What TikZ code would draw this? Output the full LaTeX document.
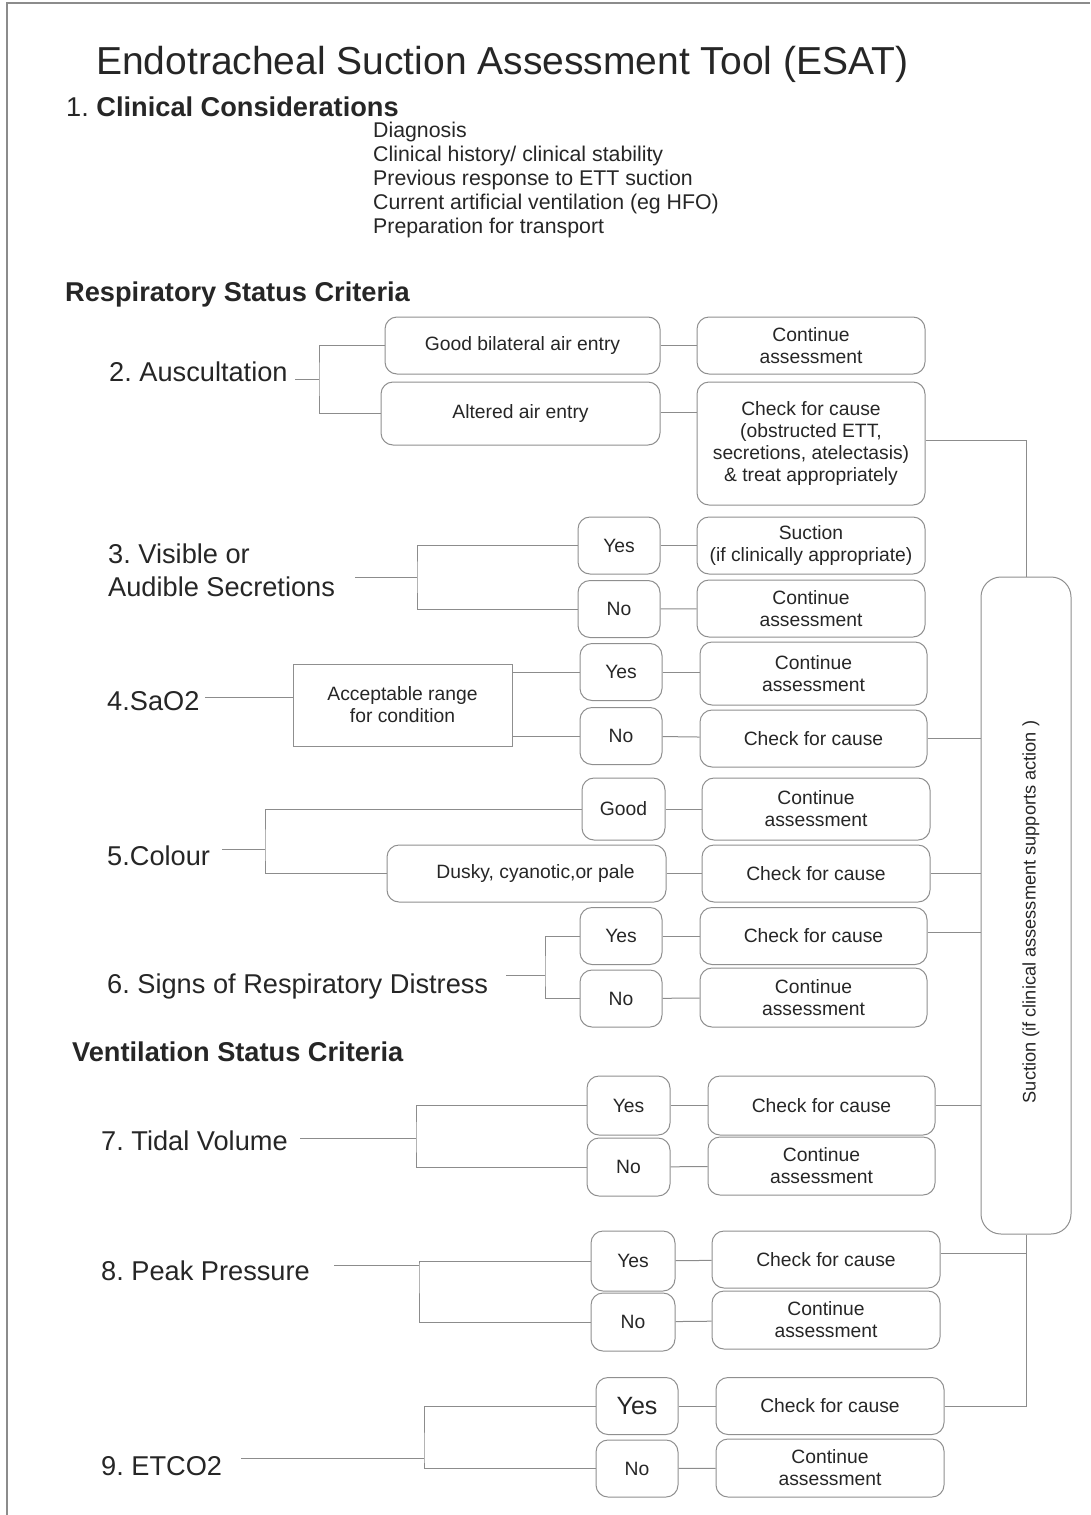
\documentclass[tikz,border=0pt]{standalone}
\usepackage{fontspec}
\setmainfont{Liberation Sans}
\frenchspacing
\definecolor{ink}{HTML}{262626}
\definecolor{linegrey}{HTML}{8C8C8C}
\definecolor{boxgrey}{HTML}{8F8F8F}
\tikzset{
  box/.style={draw=boxgrey, line width=1pt, rounded corners=12pt, inner sep=0pt, align=center,
    text=ink, font=\fontsize{19.3}{22}\selectfont, minimum height=57},
  opt/.style={box, minimum width=82},
  act/.style={box, minimum width=228},
  lab/.style={anchor=base west, inner sep=0pt, text=ink, font=\fontsize{27.2}{33}\selectfont},
  head/.style={lab, font=\fontsize{27.2}{33}\selectfont\bfseries},
  item/.style={lab, font=\fontsize{21.3}{24}\selectfont},
  conn/.style={draw=linegrey, line width=1pt}
}
\begin{document}
\begin{tikzpicture}[x=1pt,y=-1pt]
\useasboundingbox (0,0) rectangle (1090,1515);
\draw[linegrey, line width=1.2pt] (7,1515) -- (7,3) -- (1090,3);
% heading
\node[lab, font=\fontsize{39}{44}\selectfont] (title) at (96,74) {Endotracheal Suction Assessment Tool (ESAT)};
\node[lab] (cc) at (66,116) {1. \textbf{Clinical Considerations}};
\node[item] (cc1) at (373,137) {Diagnosis};
\node[item] (cc2) at (373,161) {Clinical history/ clinical stability};
\node[item] (cc3) at (373,185) {Previous response to ETT suction};
\node[item] (cc4) at (373,209) {Current artificial ventilation (eg HFO)};
\node[item] (cc5) at (373,233) {Preparation for transport};
\node[head] (resp) at (65,301) {Respiratory Status Criteria};
\node[head] (vent) at (72,1061) {Ventilation Status Criteria};
% suction column
\node[draw=boxgrey, line width=1pt, rounded corners=20pt, minimum width=90, minimum height=657] (sx) at (1026,905.5) {};
\node[rotate=90, text=ink, font=\fontsize{18.2}{20}\selectfont] (sxt) at (1031,912) {Suction (if clinical assessment supports action )};
% 2
\node[lab] (l2) at (109,381) {2. Auscultation};
\node[box, minimum width=275] (g2) at (522.5,345.5) {Good bilateral air entry};
\node[box, minimum width=279, minimum height=63] (a2) at (520.5,413.5) {Altered air entry};
\node[act] (c2) at (811,345.5) {Continue\\assessment};
\node[act, minimum height=123] (k2) at (811,443.5) {Check for cause\\(obstructed ETT,\\secretions, atelectasis)\\\& treat appropriately};
\coordinate (s2) at (295,379);
\coordinate (j2) at (319,379);
\path[conn] (s2) -- (j2);
\path[conn] (g2) -| (j2) |- (a2);
\path[conn] (g2) -- (c2);
\path[conn] (a2.east |- 0,412) -- (k2.west |- 0,412);
\path[conn] (k2.east |- 0,440) -| (sx);
% 3
\node[lab, align=left, font=\fontsize{27.2}{33}\selectfont] (l3) at (108,596) {3. Visible or\\Audible Secretions};
\node[opt] (y3) at (619,545.5) {Yes};
\node[opt] (n3) at (619,609) {No};
\node[act] (s3) at (811,545.5) {Suction\\(if clinically appropriate)};
\node[act] (c3) at (811,608.5) {Continue\\assessment};
\coordinate (s3a) at (355,577);
\coordinate (j3) at (417,577);
\path[conn] (s3a) -- (j3);
\path[conn] (y3) -| (j3) |- (n3);
\path[conn] (y3) -- (s3);
\path[conn] (n3) -- (c3);
% 4
\node[lab] (l4) at (107,710) {4.SaO2};
\node[draw=boxgrey, line width=1pt, inner sep=0pt, align=center, text=ink, font=\fontsize{19.3}{22}\selectfont,
  minimum width=219, minimum height=82] (r4) at (402.5,705) {Acceptable range\\for condition};
\node[opt] (y4) at (621,672) {Yes};
\node[opt] (n4) at (621,736) {No};
\node[act, minimum width=227, minimum height=63] (c4) at (813.5,673.5) {Continue\\assessment};
\node[act, minimum width=227] (k4) at (813.5,738.5) {Check for cause};
\coordinate (s4) at (205,697);
\path[conn] (s4) -- (s4 -| r4.west);
\path[conn] (r4.east |- y4) -- (y4);
\path[conn] (r4.east |- n4) -- (n4);
\path[conn] (y4) -- (y4 -| c4.west);
\path[conn] (n4) -- (k4);
\path[conn] (k4) -- (k4 -| sx.west);
% 5
\node[lab] (l5) at (107,865) {5.Colour};
\node[opt, minimum width=83, minimum height=62] (gd5) at (623.5,809) {Good};
\node[box, minimum width=279] (d5) at (526.5,873.5) {\hspace*{18pt}Dusky, cyanotic,or pale};
\node[act, minimum height=62] (c5) at (816,809) {Continue\\assessment};
\node[act] (k5) at (816,873.5) {Check for cause};
\coordinate (s5) at (222,849);
\coordinate (j5) at (265,849);
\path[conn] (s5) -- (j5);
\path[conn] (gd5) -| (j5) |- (d5);
\path[conn] (gd5) -- (c5);
\path[conn] (d5) -- (k5);
\path[conn] (k5) -- (k5 -| sx.west);
% 6
\node[lab] (l6) at (107,993) {6. Signs of Respiratory Distress};
\node[opt] (y6) at (621,936) {Yes};
\node[opt] (n6) at (621,998.5) {No};
\node[act, minimum width=227] (k6) at (813.5,936) {Check for cause};
\node[act, minimum width=227, minimum height=59] (c6) at (813.5,997.5) {Continue\\assessment};
\coordinate (s6) at (506,975);
\coordinate (j6) at (545,975);
\path[conn] (s6) -- (j6);
\path[conn] (y6) -| (j6) |- (n6);
\path[conn] (y6) -- (k6);
\path[conn] (n6) -- (c6);
\path[conn] (k6.east |- 0,932) -- (sx.west |- 0,932);
% 7
\node[lab] (l7) at (101,1150) {7. Tidal Volume};
\node[opt, minimum width=83, minimum height=59] (y7) at (628.5,1105.5) {Yes};
\node[opt, minimum width=83, minimum height=58] (n7) at (628.5,1167) {No};
\node[act, minimum width=227, minimum height=59] (k7) at (821.5,1105.5) {Check for cause};
\node[act, minimum width=227, minimum height=58] (c7) at (821.5,1166) {Continue\\assessment};
\coordinate (s7) at (300,1138);
\coordinate (j7) at (416,1138);
\path[conn] (s7) -- (j7);
\path[conn] (y7) -| (j7) |- (n7);
\path[conn] (y7) -- (k7);
\path[conn] (n7) -- (c7);
\path[conn] (k7) -- (k7 -| sx.west);
% 8
\node[lab] (l8) at (101,1280) {8. Peak Pressure};
\node[opt, minimum width=84, minimum height=60] (y8) at (633,1261) {Yes};
\node[opt, minimum width=84, minimum height=58] (n8) at (633,1322) {No};
\node[act] (k8) at (826,1259.5) {Check for cause};
\node[act, minimum height=58] (c8) at (826,1320) {Continue\\assessment};
\coordinate (s8) at (334,1265);
\coordinate (j8) at (419,1265);
\path[conn] (s8) -- (j8);
\path[conn] (y8) -| (j8) |- (n8);
\path[conn] (y8) -- (k8);
\path[conn] (n8) -- (c8);
\path[conn] (k8.east |- 0,1253) -| (sx);
% 9
\node[lab] (l9) at (101,1475) {9. ETCO2};
\node[opt, font=\fontsize{25}{28}\selectfont] (y9) at (637,1406) {Yes};
\node[opt] (n9) at (637,1468.5) {No};
\node[act] (k9) at (830,1406) {Check for cause};
\node[act, minimum height=58] (c9) at (830,1468) {Continue\\assessment};
\coordinate (s9) at (241,1458);
\coordinate (j9) at (424,1458);
\path[conn] (s9) -- (j9);
\path[conn] (y9) -| (j9) |- (n9);
\path[conn] (y9) -- (k9);
\path[conn] (n9) -- (c9);
\path[conn] (k9) -| (sx);
\end{tikzpicture}
\end{document}
